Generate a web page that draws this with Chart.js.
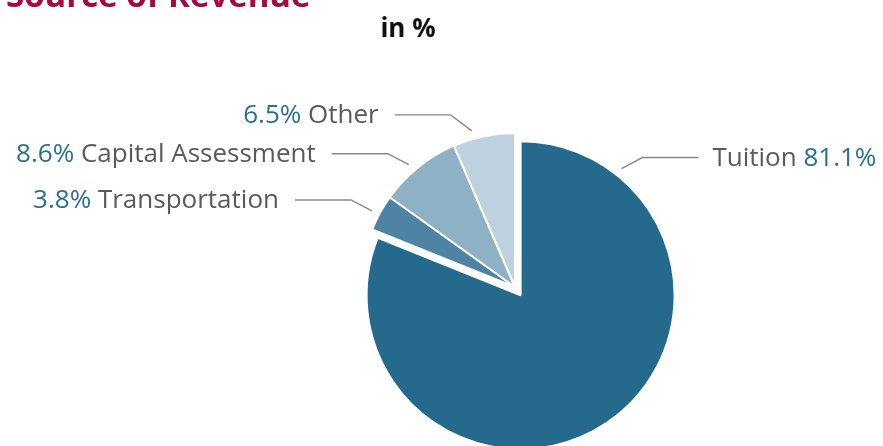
<!DOCTYPE html>
<html>
<head>
<meta charset="utf-8">
<title>Source of Revenue</title>
<script src="https://cdn.jsdelivr.net/npm/chart.js@4.4.1/dist/chart.umd.min.js"></script>
<style>
    html, body { margin: 0; padding: 0; background: #fff; width: 883px; height: 446px; overflow: hidden; }
    #wrap { position: relative; width: 883px; height: 574px; }
</style>
</head>
<body>
<div id="wrap"><canvas id="revenueChart"></canvas></div>
<script>
// Data
const categories = ['Tuition', 'Transportation', 'Capital Assessment', 'Other'];
const shares = [81.1, 3.8, 8.6, 6.5];
const shareLabels = ['81.1%', '3.8%', '8.6%', '6.5%'];

// Styling
const sliceColors = ['#256a8c', '#4e83a3', '#8fb1c6', '#bdd1de'];
const explode = [10, 0, 0, 0];             // px pulled out along the slice middle
const labelAngles = [38.5, 298, 319, 344.5]; // where each leader leaves the pie, degrees from top
const labelRise = [11, 11, 11, 16];        // rise of the leader before it turns flat
const titleColor = '#a6093d';
const pctColor = '#2b6f91';
const nameColor = '#5a5a5a';
const leaderColor = '#888888';
const labelFont = '26px "Open Sans"';

// Pull the big slice away from the others
const explodePlugin = {
    id: 'explodeSlices',
    afterDatasetUpdate(chart) {
        const meta = chart.getDatasetMeta(0);
        meta.data.forEach((arc, i) => {
            if (!explode[i]) return;
            const mid = (arc.startAngle + arc.endAngle) / 2;
            arc.x += Math.cos(mid) * explode[i];
            arc.y += Math.sin(mid) * explode[i];
        });
    }
};

// Titles plus labels with leader lines
const labelPlugin = {
    id: 'sliceLabels',
    afterDraw(chart) {
        const ctx = chart.ctx;
        ctx.save();

        ctx.textBaseline = 'alphabetic';
        ctx.fillStyle = titleColor;
        ctx.font = 'bold 33px "Open Sans"';
        ctx.textAlign = 'left';
        ctx.fillText('Source of Revenue', 6, 7);

        ctx.fillStyle = '#111';
        ctx.font = 'bold 26px "Open Sans"';
        ctx.textAlign = 'center';
        ctx.fillText('in %', 408, 37);

        ctx.font = labelFont;
        ctx.textAlign = 'left';
        const meta = chart.getDatasetMeta(0);
        meta.data.forEach((arc, i) => {
            const angle = (labelAngles[i] - 90) * Math.PI / 180;
            const r = arc.outerRadius + 8;
            const sx = arc.x + Math.cos(angle) * r;
            const sy = arc.y + Math.sin(angle) * r;
            const side = Math.cos(angle) >= 0 ? 1 : -1;
            const ex = sx + side * 21;
            const ey = sy - labelRise[i];
            const lx = ex + side * 56;

            ctx.strokeStyle = leaderColor;
            ctx.lineWidth = 1.4;
            ctx.beginPath();
            ctx.moveTo(sx, sy);
            ctx.lineTo(ex, ey);
            ctx.lineTo(lx, ey);
            ctx.stroke();

            const ty = ey + 8;
            const pct = shareLabels[i];
            const name = categories[i];
            const gap = ctx.measureText(' ').width;
            if (side > 0) {
                let x = lx + 14;
                ctx.fillStyle = nameColor;
                ctx.fillText(name, x, ty);
                x += ctx.measureText(name).width + gap;
                ctx.fillStyle = pctColor;
                ctx.fillText(pct, x, ty);
            } else {
                const nameW = ctx.measureText(name).width;
                const pctW = ctx.measureText(pct).width;
                let x = lx - 16 - nameW - gap - pctW;
                ctx.fillStyle = pctColor;
                ctx.fillText(pct, x, ty);
                x += pctW + gap;
                ctx.fillStyle = nameColor;
                ctx.fillText(name, x, ty);
            }
        });
        ctx.restore();
    }
};

const ctx = document.getElementById('revenueChart').getContext('2d');
const revenueChart = new Chart(ctx, {
    type: 'pie',
    data: {
        labels: categories,
        datasets: [{
            data: shares,
            backgroundColor: sliceColors,
            borderColor: '#ffffff',
            borderWidth: 2
        }]
    },
    options: {
        responsive: true,
        maintainAspectRatio: false,
        animation: false,
        radius: 154,
        layout: {
            padding: { left: 147, right: 0, top: 0, bottom: 0 }
        },
        plugins: {
            legend: { display: false },
            tooltip: { enabled: false }
        }
    },
    plugins: [explodePlugin, labelPlugin]
});
</script>
</body>
</html>
